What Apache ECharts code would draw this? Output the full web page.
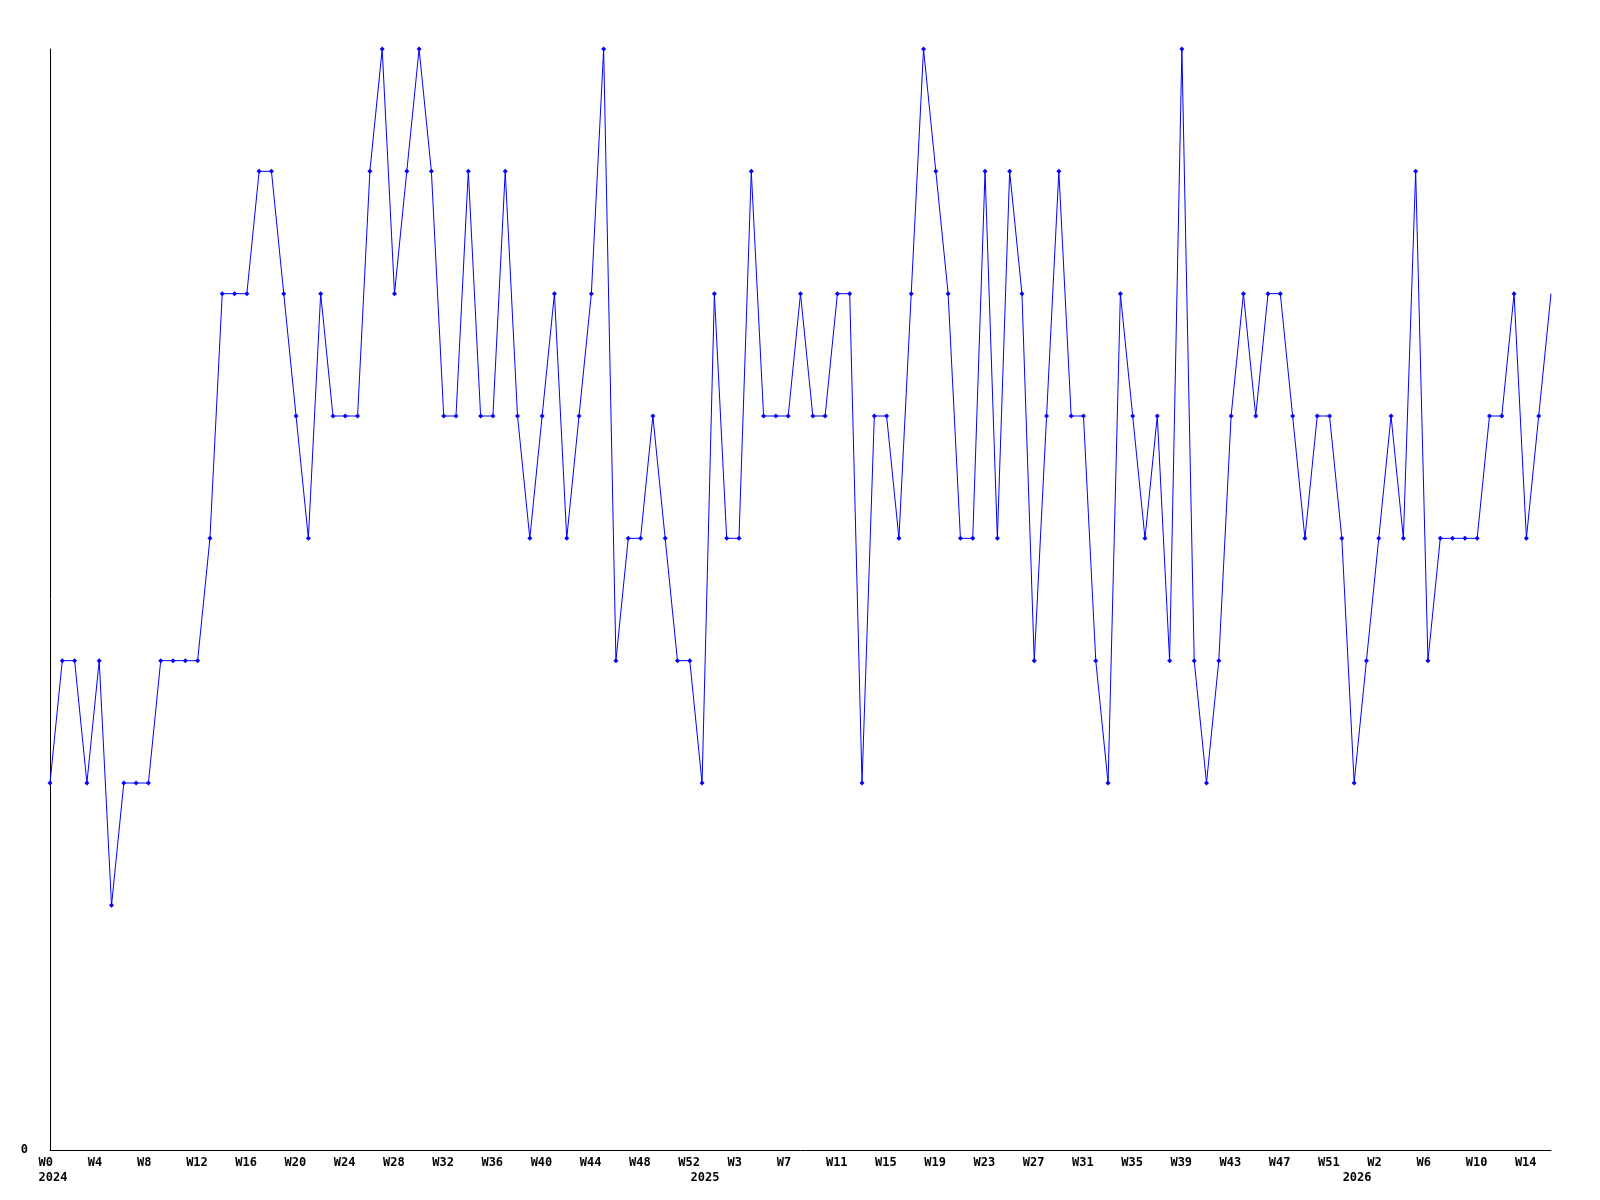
<!DOCTYPE html>
<html>
<head>
<meta charset="utf-8">
<script src="https://cdn.jsdelivr.net/npm/echarts@6/dist/echarts.min.js"></script>
<style>html,body{margin:0;padding:0;background:#fff}#c{width:1600px;height:1200px}</style>
</head>
<body>
<div id="c"></div>
<script>
// Week periods: year and number of weeks shown in that year
const years = [2024, 2025, 2026];
const weeksInYear = [53, 53, 17];
// Weekly values (one per week, W0 2024 .. W16 2026)
const values = [
  3,4,4,3,4,2,3,3,3,4,4,4,4,5,7,7,7,8,8,7,6,5,
  7,6,6,6,8,9,7,8,9,8,6,6,8,6,6,8,6,5,6,7,5,
  6,7,9,4,5,5,6,5,4,4,3,7,5,5,8,6,6,6,7,6,6,
  7,7,3,6,6,5,7,9,8,7,5,5,8,5,8,7,4,6,8,6,6,
  4,3,7,6,5,6,4,9,4,3,4,6,7,6,7,7,6,5,6,6,5,
  3,4,5,6,5,8,4,5,5,5,5,6,6,7,5,6,7
];
const yTickLabels = ['0'];

// categories built from the periods
const categories = [];
const weekLabel = [];
const yearLabel = [];
years.forEach((y, yi) => {
  for (let w = 0; w < weeksInYear[yi]; w++) {
    categories.push(y + '-W' + w);
    weekLabel.push('W' + w);
    yearLabel.push(w === 0 ? String(y) : '');
  }
});

const FONT = 'DejaVu Sans Mono';
const richA = { a: { width: 23, align: 'left', fontFamily: FONT, fontSize: 12, fontWeight: 'bold', color: '#000' } };

const chart = echarts.init(document.getElementById('c'), null, { renderer: 'canvas' });
chart.setOption({
  backgroundColor: '#ffffff',
  animation: false,
  grid: { left: 50, right: 49, top: 49, bottom: 50, containLabel: false },
  xAxis: [
    {
      type: 'category',
      data: categories,
      boundaryGap: false,
      axisLine: { show: true, lineStyle: { color: '#000', width: 1 } },
      axisTick: { show: false },
      splitLine: { show: false },
      axisLabel: {
        interval: (i) => i % 4 === 0,
        margin: 7,
        align: 'center',
        formatter: (v, i) => '{a|' + weekLabel[i] + '}',
        rich: richA
      }
    },
    {
      type: 'category',
      data: categories,
      boundaryGap: false,
      position: 'bottom',
      offset: 15,
      axisLine: { show: false },
      axisTick: { show: false },
      splitLine: { show: false },
      axisLabel: {
        interval: (i) => yearLabel[i] !== '',
        margin: 7,
        align: 'center',
        formatter: (v, i) => '{a|' + yearLabel[i] + '}',
        rich: richA
      }
    }
  ],
  yAxis: {
    type: 'value',
    min: 0,
    max: 9,
    interval: 9,
    axisLine: { show: true, lineStyle: { color: '#000', width: 1 } },
    axisTick: { show: false },
    splitLine: { show: false },
    axisLabel: {
      margin: 22,
      fontFamily: FONT,
      fontSize: 12,
      fontWeight: 'bold',
      color: '#000',
      formatter: (v) => (v === 0 ? yTickLabels[0] : '')
    }
  },
  series: [{
    type: 'line',
    data: values,
    xAxisIndex: 0,
    symbol: 'diamond',
    symbolSize: (val, p) => (p.dataIndex === values.length - 1 ? 0 : 5),
    showAllSymbol: true,
    itemStyle: { color: '#0000ff' },
    lineStyle: { color: '#0000ff', width: 1 },
    emphasis: { disabled: true }
  }]
});
</script>
</body>
</html>
